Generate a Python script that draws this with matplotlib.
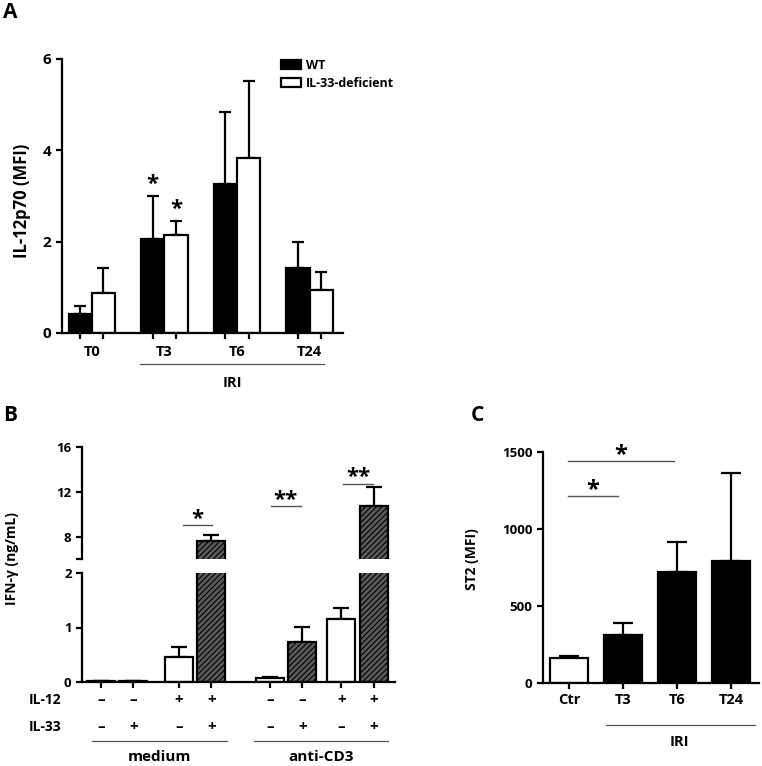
import numpy as np
import matplotlib
matplotlib.use("Agg")
import matplotlib.pyplot as plt
from matplotlib.patches import Patch

plt.rcParams['font.family'] = ['Open Sans', 'DejaVu Sans']
plt.rcParams['font.weight'] = 'bold'
plt.rcParams['axes.linewidth'] = 1.6
plt.rcParams['hatch.linewidth'] = 0.8

# ---- Panel A data ----
a_groups = ["T0", "T3", "T6", "T24"]
a_wt = [0.42, 2.06, 3.26, 1.42]
a_wt_err = [0.17, 0.94, 1.58, 0.57]
a_ko = [0.87, 2.14, 3.83, 0.94]
a_ko_err = [0.55, 0.31, 1.68, 0.40]
a_series = ["WT", "IL-33-deficient"]

# ---- Panel B data ----
b_il12 = ["-", "-", "+", "+", "-", "-", "+", "+"]
b_il33 = ["-", "+", "-", "+", "-", "+", "-", "+"]
b_vals = [0.02, 0.02, 0.46, 7.6, 0.07, 0.73, 1.16, 10.7]
b_err = [0.0, 0.0, 0.18, 0.5, 0.03, 0.28, 0.19, 1.7]
b_stim = ["medium", "anti-CD3"]

# ---- Panel C data ----
c_groups = ["Ctr", "T3", "T6", "T24"]
c_vals = [162, 312, 720, 792]
c_err = [13, 78, 195, 572]

W, H = 762, 766
fig = plt.figure(figsize=(W / 100, H / 100), dpi=100)


def px_axes(x0, y0, x1, y1):
    return fig.add_axes([x0 / W, 1 - y1 / H, (x1 - x0) / W, (y1 - y0) / H])


def style(ax, lsize=10):
    for s in ["top", "right"]:
        ax.spines[s].set_visible(False)
    ax.tick_params(width=1.6, length=4, labelsize=lsize)


def sign(s):
    # bold dash reads better than a plain hyphen
    return "\u2013" if s == "-" else s


# ================= Panel A =================
ax = px_axes(62, 59, 343, 333)
style(ax, 11)
xa = np.arange(len(a_groups))
bw = 0.32
ax.bar(xa - bw / 2, a_wt, bw, color="black", edgecolor="black", linewidth=1.6, zorder=2)
ax.bar(xa + bw / 2, a_ko, bw, color="white", edgecolor="black", linewidth=1.6, zorder=2)
ax.errorbar(xa - bw / 2, a_wt, yerr=[np.zeros(4), a_wt_err], fmt="none",
            ecolor="black", elinewidth=1.6, capsize=4.5, capthick=1.6, zorder=1)
ax.errorbar(xa + bw / 2, a_ko, yerr=[np.zeros(4), a_ko_err], fmt="none",
            ecolor="black", elinewidth=1.6, capsize=4.5, capthick=1.6, zorder=1)
ax.set_ylim(0, 6)
ax.set_xlim(-0.41, 3.46)
ax.set_yticks([0, 2, 4, 6])
ax.set_xticks(np.concatenate([xa - bw / 2, xa + bw / 2]))
ax.set_xticklabels([])
for i, g in enumerate(a_groups):
    ax.text(xa[i], -0.07, g, transform=ax.get_xaxis_transform(), ha="center", va="center",
            fontsize=10.5)
ax.text(1 - bw / 2, a_wt[1] + a_wt_err[1] + 0.25, "*", ha="center", va="center", fontsize=16)
ax.text(1 + bw / 2, a_ko[1] + a_ko_err[1] + 0.25, "*", ha="center", va="center", fontsize=16)
ax.plot([0.66, 3.2], [-0.113, -0.113], transform=ax.get_xaxis_transform(),
        color="#555555", lw=0.9, clip_on=False)
ax.text(1.93, -0.182, "IRI", transform=ax.get_xaxis_transform(), ha="center",
        va="center", fontsize=10.5)
handles = [Patch(facecolor="black", edgecolor="black", lw=1.6),
           Patch(facecolor="white", edgecolor="black", lw=1.6)]
ax.legend(handles, a_series, loc="upper left", bbox_to_anchor=(0.78, 1.0),
          frameon=False, fontsize=9, handlelength=1.6, handleheight=0.8,
          handletextpad=0.4, labelspacing=0.4, borderpad=0, borderaxespad=0)
fig.text(22 / W, 1 - 201 / H, "IL-12p70 (MFI)", rotation=90, ha="center", va="center",
         fontsize=12)
fig.text(3 / W, 1 - 2 / H, "A", ha="left", va="top", fontsize=15)

# ================= Panel B =================
xb = np.array([0, 1, 2.4, 3.4, 5.2, 6.2, 7.4, 8.4])
bwb = 0.86
face = ["white" if s == "-" else "#5a5a5a" for s in b_il33]
hatch = [None if s == "-" else "//////" for s in b_il33]

axt = px_axes(82, 447, 395, 559)
axb = px_axes(82, 573, 395, 682)
for a_ in (axt, axb):
    style(a_, 9.5)
    for i in range(len(xb)):
        a_.bar(xb[i], b_vals[i], bwb, color=face[i], hatch=hatch[i],
               edgecolor="black", linewidth=1.6, zorder=2)
    a_.errorbar(xb, b_vals, yerr=[np.zeros(len(xb)), b_err], fmt="none", ecolor="black",
                elinewidth=1.6, capsize=5.5, capthick=1.6, zorder=1)
    a_.set_xlim(-0.58, 9.05)
axt.spines["bottom"].set_visible(False)
axt.set_xticks([])
axt.set_ylim(6, 16)
axt.set_yticks([6, 8, 12, 16])
axt.set_yticklabels(["", "8", "12", "16"])
axb.set_ylim(0, 2)
axb.set_yticks([0, 1, 2])
axb.set_xticks(xb)
axb.set_xticklabels([])

trb = axb.get_xaxis_transform()
for i in range(len(xb)):
    axb.text(xb[i], -0.165, sign(b_il12[i]), transform=trb, ha="center", va="center",
             fontsize=11)
    axb.text(xb[i], -0.413, sign(b_il33[i]), transform=trb, ha="center", va="center",
             fontsize=11)
fig.text(29 / W, 1 - 700 / H, "IL-12", ha="left", va="center", fontsize=10)
fig.text(29 / W, 1 - 727 / H, "IL-33", ha="left", va="center", fontsize=10)
for (x0, x1), lab in zip([(-0.28, 3.88), (4.71, 8.83)], b_stim):
    axb.plot([x0, x1], [-0.54, -0.54], transform=trb, color="#555555", lw=0.9, clip_on=False)
    axb.text((x0 + x1) / 2, -0.69, lab, transform=trb, ha="center", va="center", fontsize=11)

for (x0, x1), yv, s in [((2.52, 3.42), 9.0, "*"), ((5.23, 6.15), 10.7, "**"),
                         ((7.45, 8.37), 12.7, "**")]:
    axt.plot([x0, x1], [yv, yv], color="#555555", lw=1.0, clip_on=False)
    axt.text((x0 + x1) / 2, yv - 0.4, s, ha="center", va="bottom", fontsize=16)

fig.text(12 / W, 1 - 559 / H, "IFN-\u03b3 (ng/mL)", rotation=90, ha="center", va="center",
         fontsize=10)
fig.text(3 / W, 1 - 405 / H, "B", ha="left", va="top", fontsize=15)

# ================= Panel C =================
axc = px_axes(543, 452, 759, 683)
style(axc, 9.5)
xc = np.arange(len(c_groups))
cface = ["white"] + ["black"] * 3
axc.bar(xc, c_vals, 0.7, color=cface, edgecolor="black", linewidth=1.6, zorder=2)
axc.errorbar(xc, c_vals, yerr=[np.zeros(4), c_err], fmt="none", ecolor="black",
             elinewidth=1.6, capsize=7.5, capthick=1.6, zorder=1)
axc.set_ylim(0, 1500)
axc.set_xlim(-0.48, 3.52)
axc.set_yticks([0, 500, 1000, 1500])
axc.set_xticks(xc)
axc.set_xticklabels(c_groups, fontsize=10.5)
trc = axc.get_xaxis_transform()
axc.plot([0.69, 3.44], [-0.182, -0.182], transform=trc, color="#555555", lw=0.9,
         clip_on=False)
axc.text(2.05, -0.255, "IRI", transform=trc, ha="center", va="center", fontsize=10.5)
for (x0, x1), yv in [((-0.02, 1.95), 1441), ((-0.02, 0.91), 1214)]:
    axc.plot([x0, x1], [yv, yv], color="#555555", lw=1.0, clip_on=False)
    axc.text((x0 + x1) / 2, yv - 40, "*", ha="center", va="bottom", fontsize=17)
fig.text(472 / W, 1 - 559 / H, "ST2 (MFI)", rotation=90, ha="center", va="center",
         fontsize=10)
fig.text(471 / W, 1 - 405 / H, "C", ha="left", va="top", fontsize=15)

fig.savefig("out.png", dpi=100)
